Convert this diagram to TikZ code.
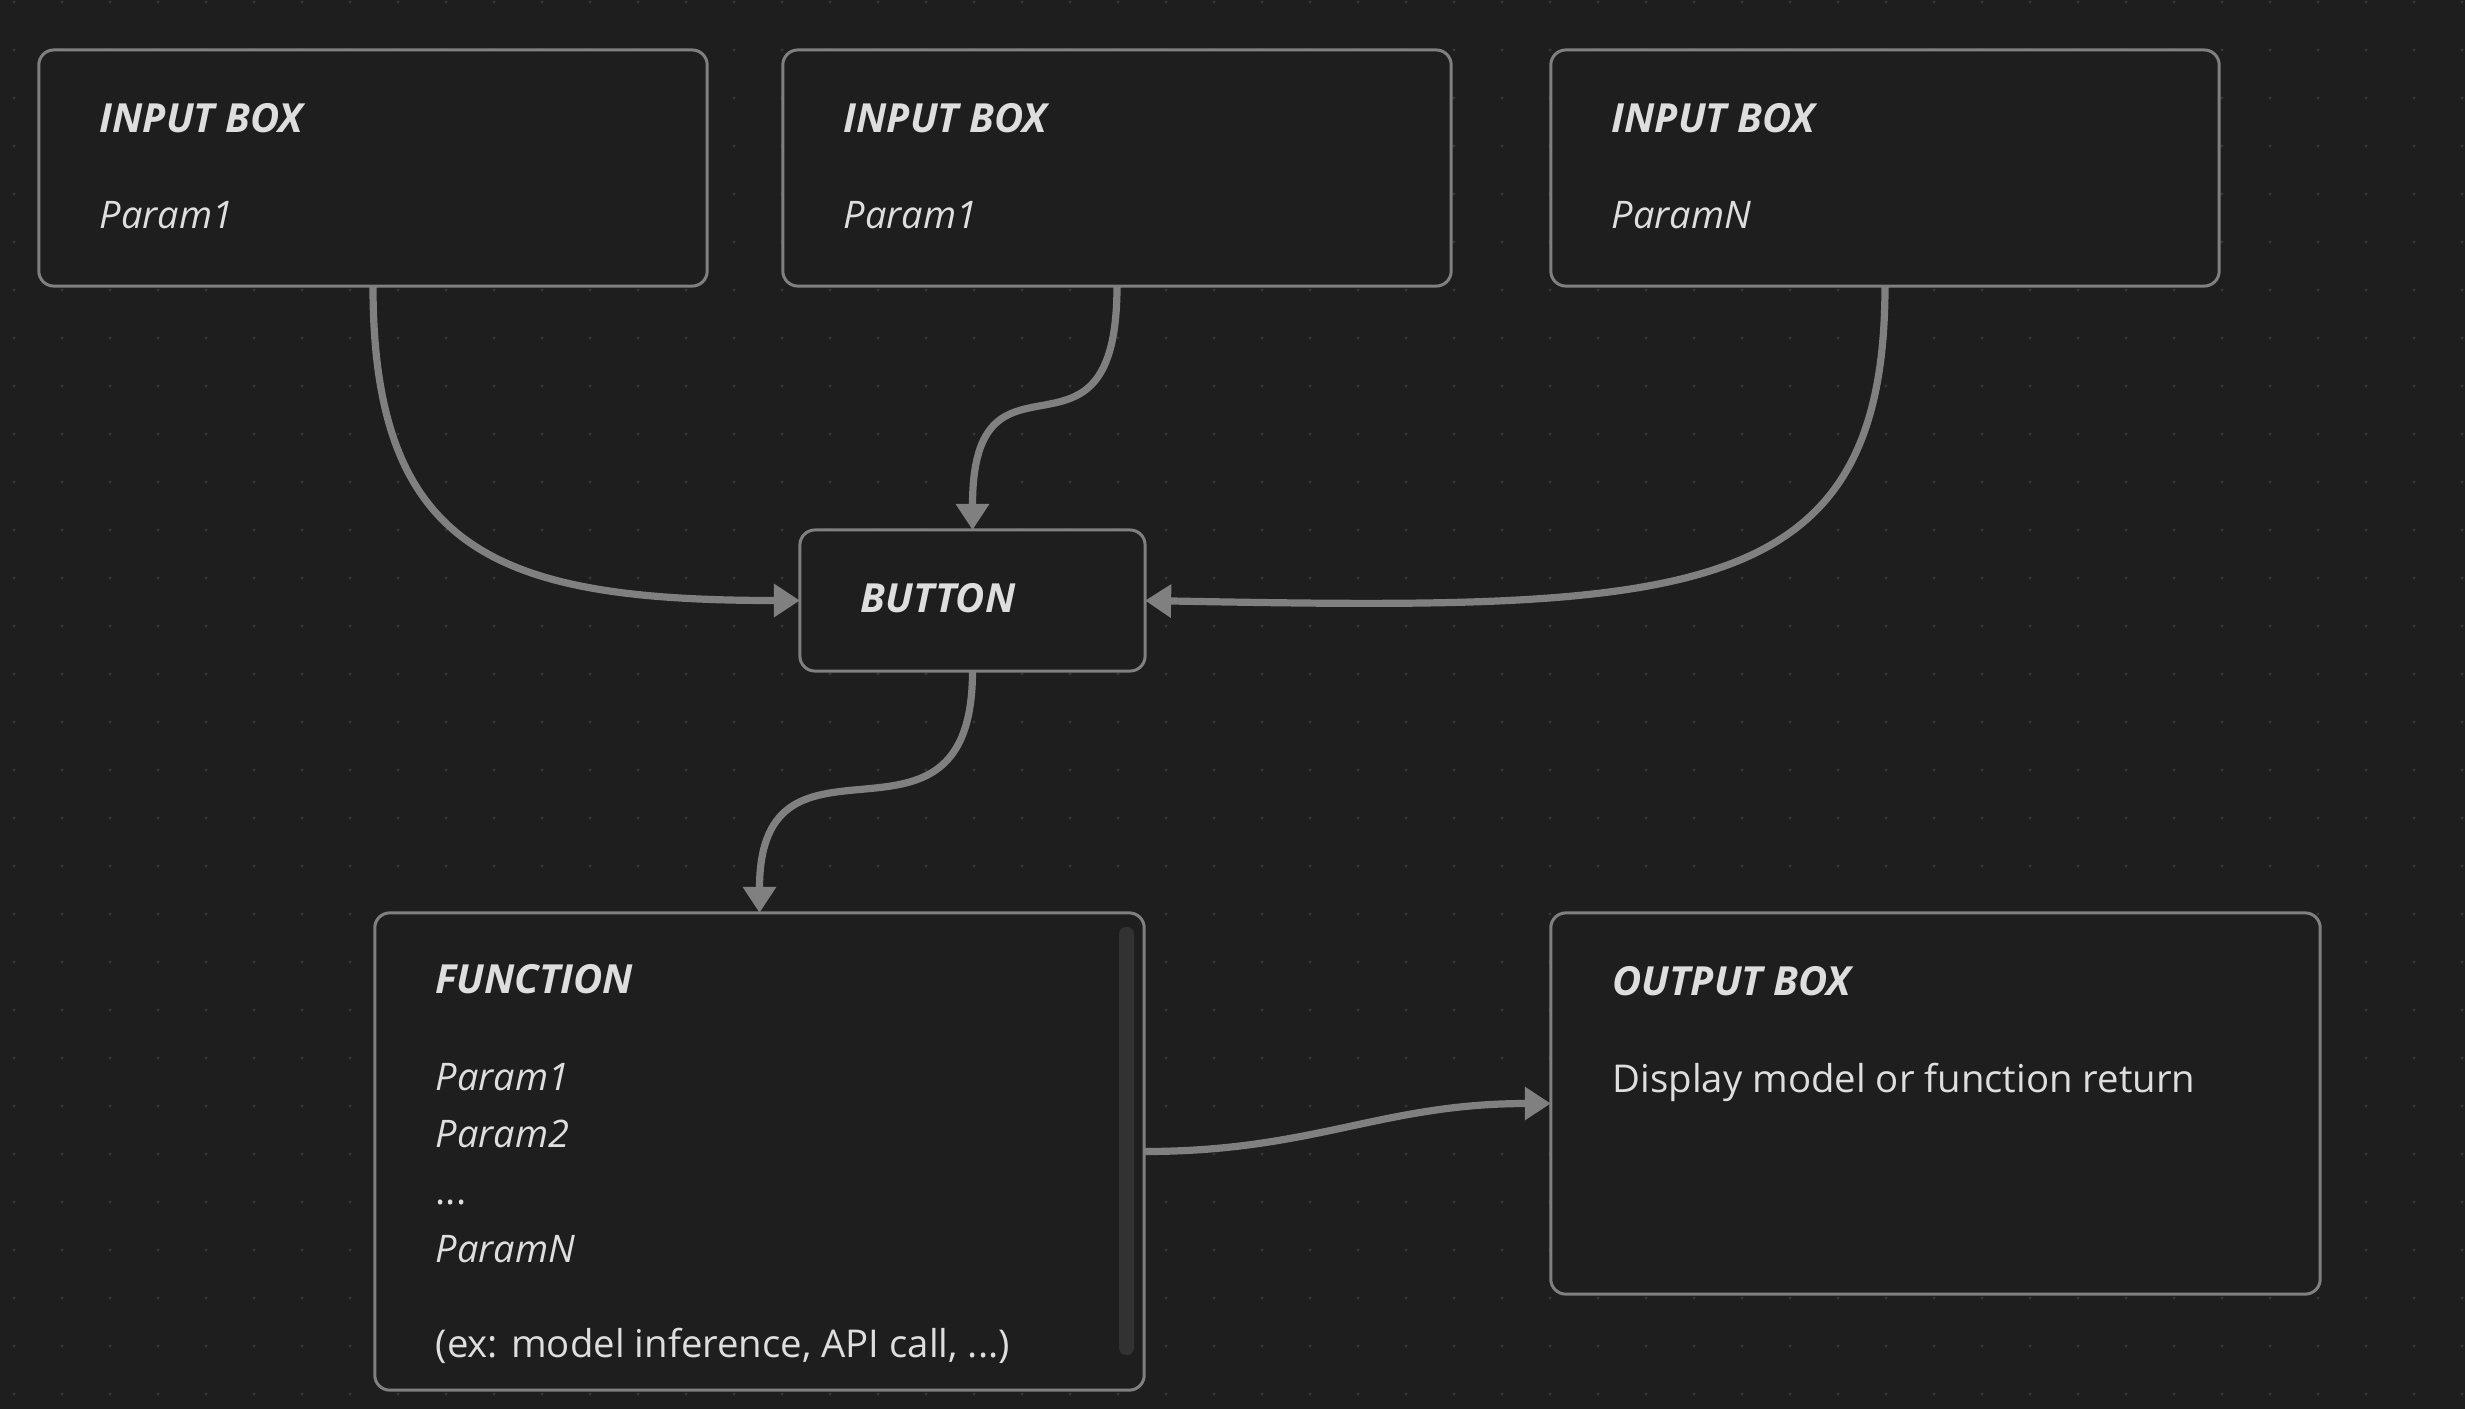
\documentclass[tikz,border=0pt]{standalone}
\usepackage{fontspec}
\setmainfont{Open Sans}
\usetikzlibrary{arrows.meta}
\definecolor{bg}{HTML}{1E1E1E}
\definecolor{dotc}{HTML}{363636}
\definecolor{edge}{HTML}{808080}
\definecolor{txt}{HTML}{DEDEDE}
\definecolor{scrollc}{HTML}{323232}
\begin{document}
\begin{tikzpicture}[x=0.01cm,y=-0.01cm,
 box/.style={draw=edge, fill=bg, line width=0.03cm, rounded corners=0.15cm, inner sep=0pt, outer sep=0pt},
 conn/.style={draw=edge, line width=0.072cm, -{Triangle[length=0.26cm,width=0.32cm]}},
 ttl/.style={anchor=base west, inner sep=0pt, text=txt, font=\fontsize{11.4}{13}\selectfont\bfseries\itshape},
 prm/.style={anchor=base west, inner sep=0pt, text=txt, font=\fontsize{10.8}{13}\selectfont\itshape},
 plain/.style={anchor=base west, inner sep=0pt, text=txt, font=\fontsize{10.9}{13}\selectfont},
]
\useasboundingbox (0,0) rectangle (2465,1408);
\fill[bg] (-10,-10) rectangle (2475,1418);
\foreach \i in {0,...,51}{\foreach \j in {0,...,29}{\fill[dotc] (14+48*\i,2+48*\j) circle[radius=0.016cm];}}

% boxes
\node[box, minimum width=6.68cm, minimum height=2.36cm] (in1) at (373,168) {};
\node[box, minimum width=6.68cm, minimum height=2.36cm] (in2) at (1117,168) {};
\node[box, minimum width=6.68cm, minimum height=2.36cm] (in3) at (1885,168) {};
\node[box, minimum width=3.45cm, minimum height=1.41cm] (btn) at (972.5,600.5) {};
\node[box, minimum width=7.69cm, minimum height=4.77cm] (fn) at (759.5,1151.5) {};
\node[box, minimum width=7.69cm, minimum height=3.81cm] (out) at (1935.5,1103.5) {};
\fill[scrollc, rounded corners=0.07cm] (1119,927) rectangle (1134,1355);

% texts
\node[ttl] (t1) at (99,132) {INPUT BOX};
\node[prm] (p1) at (99,228) {Param1};
\node[ttl] (t2) at (843,132) {INPUT BOX};
\node[prm] (p2) at (843,228) {Param1};
\node[ttl] (t3) at (1611,132) {INPUT BOX};
\node[prm] (p3) at (1611,228) {ParamN};
\node[ttl] (tb) at (860,612) {BUTTON};
\node[ttl] (tf) at (435,993) {FUNCTION};
\node[prm] (f1) at (435,1090) {Param1};
\node[prm] (f2) at (435,1147) {Param2};
\node[plain] (f3) at (435,1204) {...};
\node[prm] (f4) at (435,1262) {ParamN};
\node[plain] (f5) at (435,1357) {(ex: model inference, API call, ...)};
\node[ttl] (to) at (1612,995) {OUTPUT BOX};
\node[plain] (od) at (1612,1092) {Display model or function return};

% connectors
\draw[conn] (in1.south) .. controls +(0,267) and +(-300,0) .. (btn.west);
\draw[conn] (in2.south) .. controls +(0,205) and +(0,-205) .. (btn.north);
\draw[conn] (in3.south) .. controls +(0,321) and +(540,10) .. (btn.east);
\draw[conn] (btn.south) .. controls +(0,210) and +(0,-210) .. (fn.north);
\draw[conn] (fn.east) .. controls +(170,0) and +(-170,0) .. (out.west);
\end{tikzpicture}
\end{document}
